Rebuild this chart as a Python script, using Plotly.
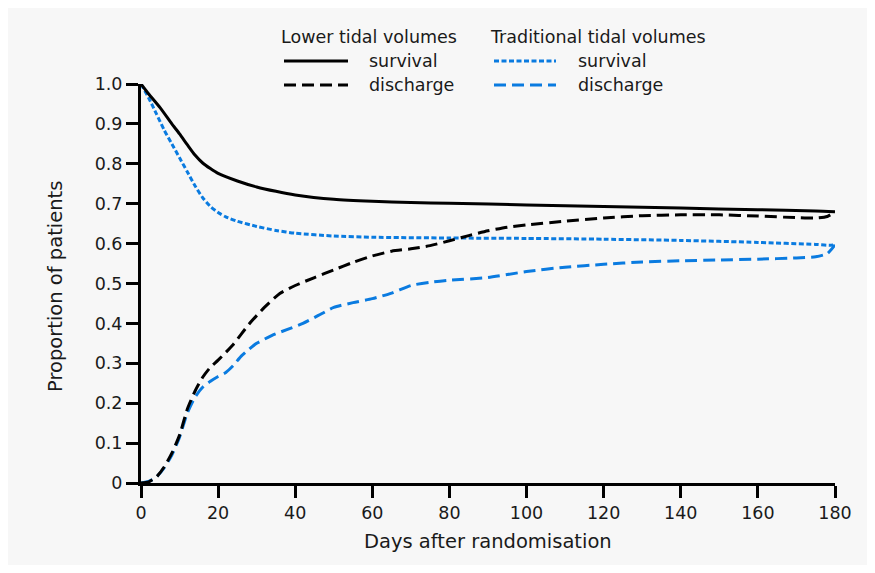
import plotly.graph_objects as go

# ---- data ----
lower_surv_days = [0, 2, 5, 8, 10, 12, 14, 16, 18, 20, 25, 30, 35, 40, 50, 60, 70, 80, 100, 120, 140, 160, 175, 180]
lower_surv = [1.0, 0.975, 0.94, 0.90, 0.875, 0.848, 0.822, 0.802, 0.788, 0.776, 0.757, 0.742, 0.731, 0.722,
              0.711, 0.706, 0.703, 0.701, 0.697, 0.693, 0.689, 0.685, 0.682, 0.680]

trad_surv_days = [0, 2, 4, 6, 8, 10, 12, 14, 16, 18, 20, 22, 25, 30, 35, 40, 50, 60, 80, 100, 120, 140, 160, 175, 179, 180]
trad_surv = [1.0, 0.965, 0.925, 0.885, 0.85, 0.815, 0.78, 0.745, 0.715, 0.693, 0.678, 0.667, 0.656, 0.643,
             0.633, 0.626, 0.619, 0.616, 0.614, 0.613, 0.611, 0.608, 0.603, 0.598, 0.596, 0.600]

lower_dis_days = [0, 2, 4, 6, 8, 10, 12, 14, 16, 18, 20, 24, 28, 32, 36, 40, 45, 50, 55, 60, 65, 70, 75, 80,
                  85, 90, 95, 100, 110, 120, 130, 140, 150, 160, 170, 175, 178, 180]
lower_dis = [0, 0.003, 0.015, 0.04, 0.075, 0.12, 0.185, 0.23, 0.265, 0.29, 0.308, 0.348, 0.398, 0.44, 0.475,
             0.495, 0.515, 0.534, 0.553, 0.569, 0.581, 0.587, 0.595, 0.607, 0.62, 0.632, 0.641, 0.647, 0.656,
             0.664, 0.670, 0.672, 0.672, 0.669, 0.665, 0.664, 0.668, 0.680]

trad_dis_days = [0, 2, 4, 6, 8, 10, 12, 14, 16, 18, 20, 22, 24, 26, 28, 30, 34, 38, 42, 46, 50, 55, 60, 65,
                 70, 75, 80, 90, 100, 110, 120, 130, 140, 150, 160, 170, 175, 178, 180]
trad_dis = [0, 0.004, 0.015, 0.038, 0.07, 0.115, 0.175, 0.215, 0.24, 0.255, 0.267, 0.277, 0.295, 0.318,
            0.335, 0.35, 0.37, 0.385, 0.40, 0.42, 0.44, 0.452, 0.462, 0.476, 0.495, 0.503, 0.508, 0.515,
            0.53, 0.541, 0.548, 0.554, 0.557, 0.559, 0.561, 0.564, 0.567, 0.575, 0.597]

x_ticks = [0, 20, 40, 60, 80, 100, 120, 140, 160, 180]
y_ticks = [0, 0.1, 0.2, 0.3, 0.4, 0.5, 0.6, 0.7, 0.8, 0.9, 1.0]
y_tick_text = ["0", "0.1", "0.2", "0.3", "0.4", "0.5", "0.6", "0.7", "0.8", "0.9", "1.0"]

BLACK = "#000000"
BLUE = "#0A7BE0"
FONT = "DejaVu Sans"
TXT = "#1a1a1a"

OFF = 8  # page body margin
W, H = 859, 557
# plot area box in window pixels
L, R, T, B = 141, 835, 84, 483


def px(x):
    return (x - L) / (R - L)


def py(y):
    return (B - y) / (B - T)


fig = go.Figure()
styles = {
    "ls": dict(color=BLACK, width=3, dash="solid"),
    "ld": dict(color=BLACK, width=3, dash="12px,6px"),
    "ts": dict(color=BLUE, width=3, dash="5px,2.5px"),
    "td": dict(color=BLUE, width=3, dash="12px,6px"),
}
for xs, ys, key in [(trad_dis_days, trad_dis, "td"), (trad_surv_days, trad_surv, "ts"),
                    (lower_dis_days, lower_dis, "ld"), (lower_surv_days, lower_surv, "ls")]:
    fig.add_trace(go.Scatter(x=xs, y=ys, mode="lines", line=dict(**styles[key], shape="spline", smoothing=0.6),
                             cliponaxis=False))

shapes = []
legend_rows = [
    (284, 348, 61, styles["ls"]), (284, 348, 85, styles["ld"]),
    (494, 556, 61, styles["ts"]), (494, 556, 85, styles["td"]),
]
for x0, x1, y, st in legend_rows:
    shapes.append(dict(type="line", xref="paper", yref="paper", x0=px(x0), x1=px(x1), y0=py(y), y1=py(y),
                       line=st))

annotations = []
for text, x, y in [("Lower tidal volumes", 279, 37), ("Traditional tidal volumes", 488, 37),
                   ("survival", 367, 61), ("discharge", 367, 85),
                   ("survival", 576, 61), ("discharge", 576, 85)]:
    annotations.append(dict(text=text, xref="paper", yref="paper", x=px(x), y=py(y), xanchor="left",
                            yanchor="middle", showarrow=False, font=dict(family=FONT, size=17.5, color=TXT)))
annotations.append(dict(text="Days after randomisation", xref="paper", yref="paper", x=px(488), y=py(541),
                        xanchor="center", yanchor="middle", showarrow=False,
                        font=dict(family=FONT, size=19.5, color=TXT)))
annotations.append(dict(text="Proportion of patients", xref="paper", yref="paper", x=px(55), y=py(287),
                        xanchor="center", yanchor="middle", showarrow=False, textangle=-90,
                        font=dict(family=FONT, size=19.5, color=TXT)))

axis_common = dict(showline=True, linecolor=BLACK, linewidth=3, ticks="outside", ticklen=12, tickwidth=3,
                   tickcolor=BLACK, showgrid=False, zeroline=False,
                   tickfont=dict(family=FONT, size=17.5, color=TXT))

fig.update_layout(
    width=W, height=H,
    margin=dict(l=L - OFF, r=W - (R - OFF), t=T - OFF, b=H - (B - OFF), autoexpand=False),
    paper_bgcolor="#f7f7f7", plot_bgcolor="rgba(0,0,0,0)",
    showlegend=False,
    shapes=shapes, annotations=annotations,
    xaxis=dict(range=[0, 180], tickvals=x_ticks, **axis_common),
    yaxis=dict(range=[0, 1], tickvals=y_ticks, ticktext=y_tick_text, **axis_common),
)

fig.write_html("out.html")
